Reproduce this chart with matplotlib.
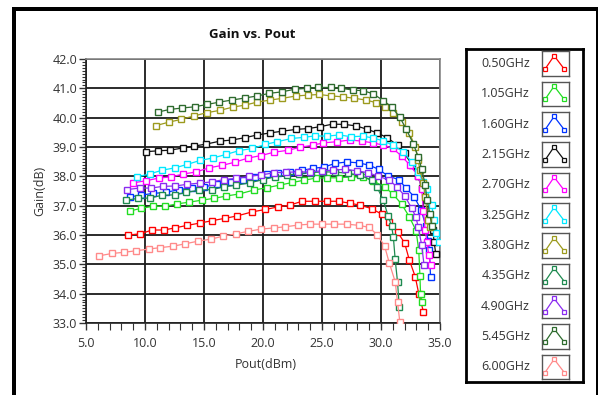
import matplotlib
matplotlib.use("Agg")
import matplotlib.pyplot as plt
from matplotlib.ticker import MultipleLocator, FormatStrFormatter
from matplotlib.patches import Rectangle

plt.rcParams['font.family'] = ['Open Sans', 'DejaVu Sans']

labels = ["0.50GHz", "1.05GHz", "1.60GHz", "2.15GHz", "2.70GHz", "3.25GHz",
          "3.80GHz", "4.35GHz", "4.90GHz", "5.45GHz", "6.00GHz"]
colors = ["#ff0000", "#22dd22", "#0033ff", "#111111", "#ff00ff", "#00e8ff",
          "#9c9a1e", "#1f8a50", "#8b2cf0", "#2e6b2e", "#ff8a8a"]

pout_050 = [8.6, 9.6, 10.6, 11.6, 12.5, 13.6, 14.7, 15.7, 16.8, 17.8, 19.1, 20.2, 21.3, 22.3,
            23.3, 24.4, 25.4, 26.4, 27.4, 28.2, 29.2, 30.1, 30.7, 31.4, 32.0, 32.4, 32.9, 33.2, 33.6]
gain_050 = [36.00, 36.04, 36.17, 36.17, 36.24, 36.33, 36.41, 36.49, 36.57, 36.65, 36.79, 36.87, 36.96, 37.02,
            37.15, 37.15, 37.15, 37.15, 37.08, 37.02, 36.90, 36.70, 36.44, 36.10, 35.73, 35.15, 34.58, 34.00, 33.38]

pout_105 = [8.7, 9.7, 10.7, 11.7, 12.7, 13.75, 14.85, 15.85, 16.9, 18.0, 19.2, 20.3, 21.4, 22.5,
            23.5, 24.5, 25.4, 26.4, 27.5, 28.5, 29.35, 30.3, 31.0, 31.75, 32.4, 32.97, 33.2, 33.3, 33.35, 33.45]
gain_105 = [36.82, 36.91, 36.98, 36.98, 37.06, 37.12, 37.19, 37.25, 37.33, 37.40, 37.53, 37.61, 37.70, 37.79,
            37.87, 37.94, 37.95, 37.95, 37.98, 37.98, 37.84, 37.64, 37.40, 37.05, 36.62, 36.15, 35.48, 34.60, 34.00, 33.70]

pout_160 = [8.7, 9.7, 10.7, 11.75, 12.9, 14.0, 15.0, 16.1, 17.25, 18.3, 19.3, 20.3, 21.3, 22.3,
            23.3, 24.2, 25.2, 26.1, 27.1, 28.1, 29.0, 29.8, 30.6, 31.5, 32.1, 32.8, 33.4, 33.8, 34.0, 34.1, 34.2]
gain_160 = [37.30, 37.36, 37.42, 37.45, 37.55, 37.61, 37.64, 37.73, 37.81, 37.87, 37.98, 38.08, 38.12, 38.15,
            38.20, 38.27, 38.32, 38.44, 38.49, 38.46, 38.38, 38.24, 38.01, 37.89, 37.61, 37.31, 36.86, 36.30, 35.79, 35.48, 34.56]

pout_215 = [10.06, 11.1, 12.1, 13.25, 14.15, 15.2, 16.35, 17.4, 18.5, 19.5, 20.6, 21.65, 22.8, 23.85,
            24.8, 25.9, 26.9, 27.9, 28.85, 29.7, 30.55, 31.4, 32.0, 32.65, 33.1, 33.5, 33.8, 34.1, 34.4, 34.5, 34.65]
gain_215 = [38.84, 38.87, 38.89, 38.97, 39.03, 39.10, 39.20, 39.24, 39.32, 39.41, 39.48, 39.54, 39.60, 39.63,
            39.69, 39.78, 39.77, 39.72, 39.60, 39.48, 39.31, 39.06, 38.78, 38.38, 38.01, 37.60, 37.09, 36.62, 36.16, 35.76, 35.34]

pout_270 = [9.0, 10.1, 11.15, 12.2, 13.25, 14.35, 15.4, 16.5, 17.6, 18.7, 19.85, 20.9, 22.15, 23.15,
            24.2, 25.1, 26.25, 27.4, 28.35, 29.35, 30.2, 31.0, 31.75, 32.45, 33.15, 33.45, 33.6, 33.75, 33.9, 34.05, 34.2]
gain_270 = [37.78, 37.85, 37.94, 37.98, 38.08, 38.15, 38.29, 38.37, 38.48, 38.62, 38.71, 38.82, 38.89, 38.99,
            39.06, 39.14, 39.18, 39.24, 39.20, 39.14, 39.06, 38.95, 38.69, 38.38, 38.01, 37.56, 36.81, 36.16, 35.75, 35.31, 34.97]

pout_325 = [9.3, 10.4, 11.45, 12.55, 13.6, 14.65, 15.8, 16.9, 18.0, 19.1, 20.2, 21.2, 22.4, 23.5,
            24.4, 25.4, 26.45, 27.5, 28.45, 29.3, 30.2, 31.0, 31.9, 32.6, 33.15, 33.6, 33.9, 34.3, 34.5, 34.7, 34.92]
gain_325 = [37.98, 38.08, 38.21, 38.29, 38.41, 38.54, 38.63, 38.75, 38.88, 38.95, 39.09, 39.18, 39.29, 39.33,
            39.38, 39.37, 39.41, 39.35, 39.37, 39.31, 39.21, 39.06, 38.84, 38.49, 38.15, 37.81, 37.56, 37.02, 36.51, 36.06, 35.76]

pout_380 = [10.93, 12.05, 13.05, 14.15, 15.25, 16.35, 17.45, 18.5, 19.5, 20.6, 21.65, 22.8, 23.85, 24.75,
            25.8, 26.8, 27.75, 28.75, 29.6, 30.35, 31.05, 31.8, 32.4, 32.9, 33.15, 33.3, 33.6, 33.75, 34.0, 34.15]
gain_380 = [39.73, 39.85, 39.94, 40.06, 40.17, 40.25, 40.36, 40.43, 40.53, 40.60, 40.66, 40.74, 40.77, 40.79,
            40.74, 40.71, 40.66, 40.60, 40.51, 40.37, 40.16, 39.86, 39.49, 39.00, 38.55, 38.21, 37.76, 37.30, 36.51, 36.27]

pout_435 = [8.35, 9.4, 10.4, 11.4, 12.5, 13.5, 14.6, 15.7, 16.7, 17.75, 18.9, 20.0, 21.0, 22.0,
            23.05, 24.1, 25.1, 26.1, 27.2, 28.2, 29.2, 29.65, 30.2, 30.6, 30.9, 31.05, 31.2, 31.4, 31.55]
gain_435 = [37.18, 37.25, 37.26, 37.35, 37.37, 37.45, 37.53, 37.55, 37.64, 37.70, 37.78, 37.89, 37.98, 38.04,
            38.09, 38.13, 38.15, 38.15, 38.10, 38.04, 37.87, 37.64, 37.19, 36.65, 36.30, 35.92, 35.17, 34.40, 33.55]

pout_490 = [8.5, 9.55, 10.5, 11.55, 12.55, 13.6, 14.65, 15.65, 16.7, 17.75, 18.85, 19.85, 20.95, 21.95,
            22.95, 24.0, 25.0, 25.9, 26.95, 27.95, 28.9, 29.75, 30.7, 31.35, 32.0, 32.6, 32.95, 33.15, 33.45, 33.65]
gain_490 = [37.55, 37.60, 37.60, 37.66, 37.67, 37.73, 37.77, 37.81, 37.89, 37.93, 38.00, 38.05, 38.12, 38.14,
            38.15, 38.15, 38.19, 38.21, 38.24, 38.19, 38.12, 38.01, 37.87, 37.64, 37.34, 36.91, 36.62, 36.28, 35.65, 34.97]

pout_545 = [11.07, 12.1, 13.15, 14.2, 15.25, 16.3, 17.35, 18.45, 19.5, 20.55, 21.6, 22.7, 23.75, 24.7,
            25.75, 26.65, 27.65, 28.5, 29.35, 30.2, 30.9, 31.6, 32.15, 32.75, 33.15, 33.45, 33.75, 33.9, 34.15, 34.3]
gain_545 = [40.19, 40.28, 40.33, 40.37, 40.45, 40.53, 40.60, 40.67, 40.74, 40.83, 40.88, 40.97, 41.00, 41.03,
            41.03, 41.00, 40.94, 40.92, 40.81, 40.58, 40.37, 40.01, 39.60, 39.10, 38.67, 38.25, 37.70, 37.19, 36.70, 36.30]

pout_600 = [6.1, 7.2, 8.2, 9.2, 10.3, 11.3, 12.4, 13.4, 14.5, 15.6, 16.6, 17.7, 18.7, 19.8, 20.9, 21.9,
            23.0, 24.0, 25.0, 26.0, 27.1, 28.1, 29.0, 29.7, 30.3, 30.7, 31.2, 31.4, 31.6]
gain_600 = [35.29, 35.37, 35.41, 35.46, 35.52, 35.57, 35.62, 35.70, 35.79, 35.86, 35.96, 36.04, 36.12, 36.20, 36.24, 36.28,
            36.34, 36.37, 36.37, 36.37, 36.37, 36.33, 36.26, 36.00, 35.63, 35.05, 34.41, 33.72, 33.02]

series = [(pout_050, gain_050), (pout_105, gain_105), (pout_160, gain_160), (pout_215, gain_215),
          (pout_270, gain_270), (pout_325, gain_325), (pout_380, gain_380), (pout_435, gain_435),
          (pout_490, gain_490), (pout_545, gain_545), (pout_600, gain_600)]

W, H = 600, 395
fig = plt.figure(figsize=(6.0, 3.95), dpi=100)
fig.patch.set_facecolor("white")

# outer frame
fig.add_artist(Rectangle((12 / W, 0), 4 / W, 1 - 7 / H, transform=fig.transFigure, color="black", lw=0))
fig.add_artist(Rectangle((12 / W, 1 - 11 / H), (598 - 12) / W, 4 / H, transform=fig.transFigure, color="black", lw=0))
fig.add_artist(Rectangle((595.5 / W, 0), 2.5 / W, 1 - 7 / H, transform=fig.transFigure, color="black", lw=0))

ax = fig.add_axes([86 / W, 1 - 323 / H, (440 - 86) / W, (323 - 59) / H])
for (px, gy), c in zip(series, colors):
    ax.plot(px, gy, color=c, lw=0.9, marker="s", ms=5, mfc="white", mec=c, mew=1.0, zorder=3)

ax.set_xlim(5, 35)
ax.set_ylim(33, 42)
ax.xaxis.set_major_locator(MultipleLocator(5))
ax.xaxis.set_minor_locator(MultipleLocator(1))
ax.yaxis.set_major_locator(MultipleLocator(1))
ax.yaxis.set_minor_locator(MultipleLocator(0.1))
ax.xaxis.set_major_formatter(FormatStrFormatter("%.1f"))
ax.yaxis.set_major_formatter(FormatStrFormatter("%.1f"))
ax.grid(True, which="major", color="#1a1a1a", lw=1.3, zorder=1)
ax.set_axisbelow(True)
ax.tick_params(axis="both", which="major", labelsize=9, labelcolor="#333333", color="#333333",
               direction="out", length=5, width=1)
ax.tick_params(axis="y", which="minor", length=3, width=0.8, color="#333333")
ax.tick_params(axis="x", which="minor", length=5, width=0.8, color="#333333")
ax.tick_params(axis="y", which="major", pad=1.5)
ax.tick_params(axis="x", which="major", pad=5)
for s in ["top", "right"]:
    ax.spines[s].set_color("#888888")
    ax.spines[s].set_linewidth(1.2)
for s in ["left", "bottom"]:
    ax.spines[s].set_color("#222222")
    ax.spines[s].set_linewidth(1.2)

fig.text(252 / W, 1 - 35 / H, "Gain vs. Pout", ha="center", va="center", fontsize=9.5,
         fontweight="bold", color="#111111")
fig.text(266 / W, 1 - 365 / H, "Pout(dBm)", ha="center", va="center", fontsize=9, color="#333333")
fig.text(40 / W, 1 - 191 / H, "Gain(dB)", ha="center", va="center", fontsize=9, color="#333333",
         rotation=90)

# legend
lg = fig.add_axes([466 / W, 1 - 382 / H, (583 - 466) / W, (382 - 49) / H])
lg.set_xticks([])
lg.set_yticks([])
for s in lg.spines.values():
    s.set_color("black")
    s.set_linewidth(2)
for i, (lab, c) in enumerate(zip(labels, colors)):
    yc = 63.5 + 30.34 * i
    fig.text(530 / W, 1 - yc / H, lab, ha="right", va="center", fontsize=9, color="#333333")
    ic = fig.add_axes([541.7 / W, 1 - (yc + 12.2) / H, 27.6 / W, 24.3 / H])
    ic.set_xlim(0, 1)
    ic.set_ylim(0, 1)
    ic.set_xticks([])
    ic.set_yticks([])
    for s in ic.spines.values():
        s.set_color("#555555")
        s.set_linewidth(1)
    ic.plot([0.12, 0.45, 0.82], [0.27, 0.82, 0.27], color=c, lw=0.9, marker="s", ms=3,
            mfc="white", mec=c, mew=0.9)

fig.savefig("out.png", dpi=100)
